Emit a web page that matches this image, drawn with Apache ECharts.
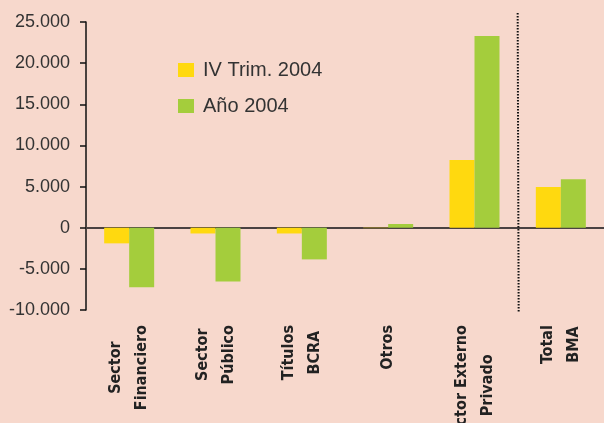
<!DOCTYPE html>
<html><head><meta charset="utf-8">
<script src="https://cdn.jsdelivr.net/npm/echarts@6/dist/echarts.min.js"></script>
<style>html,body{margin:0;padding:0;background:#F7D8CC;}#c{width:604px;height:423px;}</style>
</head><body><div id="c"></div>
<script>
const categories = ['Sector\nFinanciero', 'Sector\nPúblico', 'Títulos\nBCRA', 'Otros', 'Sector Externo\nPrivado', 'Total\nBMA'];
const seriesNames = ['IV Trim. 2004', 'Año 2004'];
const trimValues = [-1900, -700, -700, -50, 8230, 4950];
const yearValues = [-7250, -6530, -3850, 450, 23300, 5900];
const yTicks = [-10000, -5000, 0, 5000, 10000, 15000, 20000, 25000];

const chart = echarts.init(document.getElementById('c'), null, {renderer: 'canvas'});
function fmt(v){ const s = Math.abs(v).toString().replace(/\B(?=(\d{3})+(?!\d))/g, '.'); return (v < 0 ? '-' : '') + s; }
chart.setOption({
  backgroundColor: '#F7D8CC',
  animation: false,
  grid: {left: 86, right: 0, top: 22, bottom: 113, containLabel: false, outerBoundsMode: 'none'},
  legend: {
    orient: 'vertical', left: 173, top: 55, itemWidth: 16, itemHeight: 14, itemGap: 16,
    icon: 'rect',
    textStyle: {fontFamily: 'Liberation Sans', fontSize: 20, color: '#333', padding: [0,0,0,4]},
    data: seriesNames
  },
  xAxis: {
    type: 'category', data: categories,
    axisLine: {onZero: true, lineStyle: {color: '#4a4242', width: 2}},
    axisTick: {length: 5, lineStyle: {color: '#222', width: 1.5}},
    axisLabel: {
      rotate: 90, margin: 15, interval: 0,
      formatter: v => v.split('\n').map(s => '{c|' + s + '}').join('\n'),
      rich: {c: {align: 'center', fontFamily: "'DejaVu Sans Condensed', 'Liberation Sans Narrow', 'Liberation Sans', sans-serif", fontWeight: 'bold', fontSize: 16, lineHeight: 26, color: '#222'}}
    }
  },
  yAxis: {
    type: 'value', min: -10000, max: 25000, interval: 5000,
    splitLine: {show: false},
    axisLine: {show: true, lineStyle: {color: '#111', width: 1.5}},
    axisTick: {show: true, length: 6, lineStyle: {color: '#111', width: 1.5}},
    axisLabel: {margin: 16, fontFamily: 'Liberation Sans', fontSize: 18, color: '#333', formatter: fmt}
  },
  series: [
    {name: seriesNames[0], type: 'bar', data: trimValues, barWidth: 25, barGap: '0%', itemStyle: {color: '#FFD90F'}},
    {name: seriesNames[1], type: 'bar', data: yearValues, barWidth: 25, barGap: '0%', itemStyle: {color: '#A4CD3C'}}
  ]
});
const xa = chart.convertToPixel({xAxisIndex: 0}, 4);
const xb = chart.convertToPixel({xAxisIndex: 0}, 5);
const xs = (xa + xb) / 2;
const yTop = chart.convertToPixel({yAxisIndex: 0}, yTicks[yTicks.length - 1]) - 9;
const yBot = chart.convertToPixel({yAxisIndex: 0}, yTicks[0]) + 3;
chart.setOption({graphic: [{type: 'line', shape: {x1: xs, y1: yTop, x2: xs + 1, y2: yBot}, style: {stroke: '#111', lineWidth: 2, lineDash: [1.5, 1.5]}, z: 10}]});
</script></body></html>
